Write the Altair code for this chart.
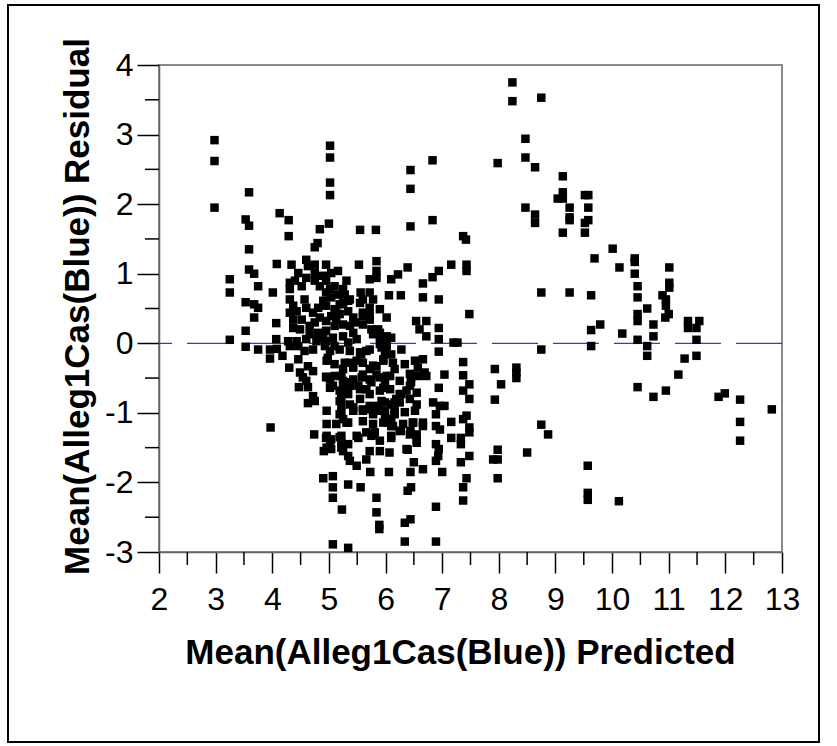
import altair as alt
import pandas as pd

# Predicted (x) and residual (y) values, grouped by region of the x axis
pred_a = [2.98, 2.98, 2.98, 3.25, 3.25, 3.25, 3.59, 3.53, 3.59, 3.59, 3.59, 3.68, 3.75,
          3.53, 3.68, 3.75, 3.68, 3.53, 3.53, 3.75, 3.96, 3.96, 4.08, 4.18,
          4.01, 4.07, 4.07, 3.97, 4.13, 4.29, 4.29, 4.08, 4.28, 4.43]
resid_a = [2.92, 2.62, 1.95, 0.92, 0.73, 0.05, 2.17, 1.78, 1.69, 1.35, 1.06, 1.0, 0.82,
           0.59, 0.56, 0.51, 0.37, 0.18, -0.05, -0.09, -0.09, -0.22, -0.08, -0.18,
           0.73, 0.29, 0.06, -1.21, 1.87, 1.77, 1.54, 1.14, 0.03, 0.03]

pred_b = [4.34, 4.46, 4.6, 4.63, 4.75, 4.75, 4.75, 4.8, 4.84, 5.0,
          4.31, 4.31, 4.4, 4.52, 4.6, 4.75, 4.84, 4.9, 4.95,
          4.31, 4.37, 4.31, 4.43, 4.57, 4.6, 4.72, 4.81, 4.9, 4.84, 4.95, 4.75, 4.66, 4.52,
          4.37, 4.37, 4.49, 4.66, 4.81, 4.95, 4.9, 4.6, 4.78, 4.95,
          4.31, 4.46, 4.57, 4.72, 4.98,
          4.3, 4.46, 4.49, 4.54, 4.63, 4.72, 4.6, 4.47, 4.63, 4.72, 4.63, 4.75, 4.95,
          4.74, 4.95, 4.91, 4.9, 4.95, 4.95, 4.95, 4.93,
          4.96, 4.96, 4.96, 4.96, 4.96, 4.96]
resid_b = [1.13, 1.01, 1.2, 1.11, 1.13, 1.01, 1.38, 1.44, 1.64, 1.72,
           0.87, 0.78, 0.9, 0.82, 0.94, 0.9, 0.82, 0.97, 0.9,
           0.63, 0.54, 0.44, 0.46, 0.63, 0.51, 0.44, 0.51, 0.61, 0.37, 0.32, 0.3, 0.25, 0.34,
           0.34, 0.22, 0.2, 0.13, 0.15, 0.18, 0.08, 0.06, 0.03, 0.03,
           -0.04, -0.04, -0.11, -0.09, -0.21,
           -0.35, -0.23, -0.42, -0.49, -0.33, -0.4, -0.54, -0.63, -0.63, -0.76, -0.86, -0.83, -0.48,
           -1.31, -1.36, -1.55, -1.94, 1.13, 0.73, 0.54, -0.04,
           -0.25, -0.49, -0.97, -1.16, -1.33, -1.5]

pred_c = [5.02, 5.02, 5.02, 5.02, 5.04, 5.16, 5.31, 5.02, 5.1, 5.25, 5.37, 5.25,
          5.04, 5.16, 5.28, 5.34, 5.19, 5.1, 5.04, 5.19, 5.34, 5.43, 5.1, 5.25, 5.37, 5.43,
          5.25, 5.07, 5.1, 5.34, 5.49, 5.13, 5.13, 5.46,
          5.02, 5.19, 5.37, 5.1, 5.28, 5.43, 5.1, 5.25, 5.43, 5.02, 5.19, 5.37, 5.19, 5.37,
          5.19, 5.43, 5.13, 5.31, 5.19, 5.49, 5.25,
          5.37, 5.49, 5.25, 5.22, 5.07, 5.02, 5.37, 5.25, 5.34, 5.22, 5.22, 5.22, 5.22,
          5.43, 5.25, 5.34, 5.22, 5.22, 5.22, 5.04, 5.04, 5.02,
          5.34, 5.37, 5.49, 5.34, 5.07, 5.07, 5.07, 5.34, 5.23, 5.07, 5.34, 5.52]
resid_c = [2.84, 2.67, 2.31, 2.13, 1.01, 1.04, 0.9, 0.78, 0.82, 0.78, 0.63, 0.58,
           0.66, 0.7, 0.7, 0.61, 0.56, 0.49, 0.39, 0.42, 0.46, 0.37, 0.25, 0.27, 0.25, 0.15,
           0.1, 0.08, -0.04, 0.01, 0.06, 0.44, 0.34, 0.3,
           -0.11, -0.09, -0.11, -0.3, -0.28, -0.35, -0.47, -0.54, -0.52, -0.64, -0.68, -0.61, -0.83, -0.88,
           -1.02, -0.97, -1.16, -1.14, -1.35, -1.33, -1.55,
           -0.28, -0.25, -0.37, -0.47, -0.61, -0.52, -0.56, -0.61, -0.73, -0.73, -0.8, -0.9, -1.0,
           -0.92, -1.09, -1.14, -1.33, -1.43, -1.5, -1.38, -1.52, -1.43,
           -1.62, -1.69, -1.76, -1.45, -1.91, -2.07, -2.22, -2.03, -2.39, -2.89, -2.94, -1.36]

pred_d = [5.55, 5.83, 5.53, 5.84, 5.84, 5.84, 5.72,
          5.56, 5.72, 5.55, 5.72, 5.6, 5.6, 5.72, 5.75, 5.87, 5.9, 6.02, 5.9, 6.02,
          5.6, 5.72, 5.78, 5.9, 5.96, 6.1, 5.6, 5.78, 5.9, 6.02,
          5.55, 5.72, 5.93, 5.6, 5.78, 5.96, 5.58, 5.75, 5.9, 5.55, 5.72, 5.9, 5.55, 5.72, 5.93,
          5.6, 5.78, 5.99, 5.6, 5.78, 5.96, 5.78, 5.9, 5.72, 5.9,
          5.57, 5.66, 5.99, 5.96, 5.84, 5.72, 5.6, 5.66, 5.52, 5.84, 5.72,
          5.87, 5.9, 5.99, 5.6, 5.72, 5.81, 5.75, 5.66, 6.07, 5.66,
          5.73, 5.84, 5.84, 5.89, 5.89, 5.56]
resid_d = [1.63, 1.63, 1.13, 1.18, 1.04, 0.94, 0.92,
           0.73, 0.73, 0.58, 0.51, 0.39, 0.27, 0.34, 0.2, 0.2, 0.1, 0.1, -0.01, -0.04,
           0.44, 0.39, 0.13, 0.15, 0.08, 0.08, 0.63, 0.63, 0.49, 0.37,
           -0.13, -0.09, -0.06, -0.28, -0.32, -0.25, -0.49, -0.56, -0.49, -0.66, -0.73, -0.68, -0.8, -0.9, -0.83,
           -0.97, -1.02, -0.97, -1.12, -1.16, -1.14, -1.31, -1.4, -1.55, -1.55,
           -0.16, -0.11, -0.13, -0.23, -0.33, -0.37, -0.45, -0.66, -0.61, -0.45, -0.52,
           -0.9, -0.97, -0.85, -0.95, -0.95, -1.28, -1.33, -1.28, -1.57, -1.67,
           -1.85, -2.22, -2.43, -2.61, -2.67, -2.07]

pred_e = [6.06, 6.27, 6.22, 6.1, 6.39, 6.44, 6.44, 6.44, 6.83, 6.83,
          6.66, 6.94, 6.66, 6.83, 6.94, 6.54, 6.72, 6.6, 6.72, 6.94, 6.94, 6.94,
          6.1, 6.28, 6.13, 6.34, 6.52, 6.08, 6.25, 6.43, 6.08, 6.25, 6.43, 6.55, 6.1, 6.25, 6.43, 6.55,
          6.16, 6.34, 6.52, 6.13, 6.31, 6.49, 6.1, 6.25, 6.43, 6.55, 6.37,
          6.57, 6.66, 6.16, 6.02, 5.99, 5.96, 6.45, 6.45, 6.57, 6.72, 6.69,
          6.16, 6.19, 6.28, 6.37, 6.16, 6.16, 6.1, 6.1, 5.99, 6.04,
          6.48, 6.66, 6.66, 6.27, 6.44, 6.55, 6.1,
          6.55, 6.39, 6.5, 6.44, 6.45, 6.39, 6.44, 6.34, 6.34, 6.06, 6.66,
          6.84, 6.96, 7.04, 6.89, 6.89, 6.96, 6.89, 6.94, 6.93, 6.89, 7.0, 6.89, 6.89, 6.94, 7.04]
resid_e = [0.69, 0.69, 0.99, 0.92, 1.09, 1.68, 2.22, 2.49, 2.63, 1.77,
           0.66, 0.63, 0.86, 0.95, 1.04, 0.32, 0.32, 0.2, 0.1, 0.22, 0.06, -0.12,
           -0.16, -0.09, -0.28, -0.3, -0.25, -0.47, -0.54, -0.44, -0.66, -0.73, -0.61, -0.71, -0.88, -0.85, -0.8, -0.88,
           -1.02, -0.99, -0.97, -1.19, -1.16, -1.14, -1.33, -1.26, -1.31, -1.38, -1.52,
           -0.35, -0.23, -0.37, -0.47, -0.56, -0.64, -0.56, -0.49, -0.47, -0.47, -0.42,
           -0.85, -0.8, -0.73, -0.68, -0.9, -1.0, -1.09, -1.19, -1.04, -1.14,
           -1.14, -1.14, -1.19, -1.26, -1.26, -1.31, -1.36,
           -1.43, -1.53, -1.71, -1.85, -2.07, -2.12, -2.53, -2.58, -2.85, -1.85, -1.81,
           -0.85, -0.9, -0.9, -1.02, -1.19, -1.24, -1.45, -1.52, -1.62, -1.69, -1.85, -2.35, -2.85, -0.64, -0.45]

pred_f = [7.16, 7.43, 7.43, 7.37, 7.42, 7.48, 7.2, 7.27,
          7.37, 7.37, 7.48, 7.37, 7.48, 7.43, 7.37, 7.16, 7.48, 7.48, 7.16, 7.33, 7.33, 7.48, 7.33,
          7.43, 7.37, 7.37, 7.93, 7.93, 7.98, 7.9, 7.98, 7.98, 7.98]
resid_f = [1.13, 1.13, 1.04, 1.54, 1.49, 0.42, 0.01, 0.01,
           -0.27, -0.46, -0.59, -0.68, -0.8, -1.04, -1.09, -1.13, -1.21, -1.28, -1.36, -1.36, -1.45, -1.62, -1.71,
           -1.94, -2.07, -2.26, -0.37, -0.81, -1.53, -1.67, -1.67, -1.94, 2.59]

pred_g = [8.24, 8.24, 8.47, 8.47, 8.47, 8.75, 8.64, 8.64, 8.64, 8.75, 8.75,
          8.31, 8.31, 8.31, 8.04, 8.5, 8.75, 8.87,
          9.13, 9.13, 9.04, 9.13, 9.52, 9.58, 9.25, 9.25, 9.25, 9.58, 9.52, 9.58, 9.13, 9.52,
          9.25, 9.63, 9.69, 9.79, 9.63, 9.63, 9.57, 9.57, 9.57]
resid_g = [3.75, 3.48, 2.94, 2.67, 1.95, 3.53, 2.53, 1.85, 1.73, 0.73, -0.09,
           -0.35, -0.42, -0.5, -0.59, -1.57, -1.17, -1.31,
           2.4, 2.17, 2.08, 2.08, 2.13, 2.13, 1.95, 1.81, 1.77, 1.95, 1.73, 1.77, 1.59, 1.59,
           0.73, 0.69, 1.22, 0.27, 0.19, -0.04, -1.76, -2.15, -2.25]

pred_h = [10.01, 10.4, 10.4, 10.13, 10.4, 11.01, 11.01, 11.01, 10.45, 10.45, 10.89, 10.95,
          10.95, 11.0, 10.94, 10.62, 10.45, 10.45, 10.73, 11.34, 11.34, 11.54, 11.49,
          10.18, 10.45, 10.73, 11.49, 10.62, 10.62, 11.28, 11.49, 11.17, 10.45, 10.73, 10.95,
          11.88, 11.99, 12.26, 12.82, 12.26, 12.26, 10.12]
resid_h = [1.36, 1.22, 1.17, 1.09, 1.0, 1.09, 0.87, 0.8, 0.82, 0.66, 0.69, 0.63,
           0.54, 0.42, 0.37, 0.5, 0.42, 0.32, 0.27, 0.32, 0.22, 0.32, 0.22,
           0.14, 0.05, 0.1, 0.05, -0.04, -0.18, -0.22, -0.18, -0.45, -0.63, -0.77, -0.68,
           -0.77, -0.72, -0.81, -0.95, -1.13, -1.4, -2.27]

# Tick positions
x_major = [2, 3, 4, 5, 6, 7, 8, 9, 10, 11, 12, 13]
x_minor = [2.5, 3.5, 4.5, 5.5, 6.5, 7.5, 8.5, 9.5, 10.5, 11.5, 12.5]
y_major = [-3, -2, -1, 0, 1, 2, 3, 4]
y_minor = [-2.5, -1.5, -0.5, 0.5, 1.5, 2.5, 3.5]
zero_ref = [0]

preds = pred_a + pred_b + pred_c + pred_d + pred_e + pred_f + pred_g + pred_h
resids = resid_a + resid_b + resid_c + resid_d + resid_e + resid_f + resid_g + resid_h
df = pd.DataFrame({"pred": preds, "resid": resids})

FONT = "Liberation Sans"
xscale = alt.Scale(domain=[2, 13], nice=False, zero=False)
yscale = alt.Scale(domain=[-3, 4], nice=False, zero=False)

x_axis = alt.Axis(
    orient="bottom", values=x_major, tickSize=21, tickColor="black", tickWidth=1.5,
    domainColor="#666666", domainWidth=1.5, grid=False,
    labelExpr="'' + datum.value",
    labelFont=FONT, labelFontSize=32, labelColor="black", labelPadding=11,
    labelBaseline="top", labelFlush=False, labelOverlap=False,
    title="Mean(Alleg1Cas(Blue)) Predicted", titleFont=FONT, titleFontSize=35,
    titleFontWeight="bold", titleColor="black", titleX=301, titleY=111,
    titleBaseline="alphabetic", titleAlign="center",
)
y_axis = alt.Axis(
    orient="left", values=y_major, tickSize=22, tickColor="black", tickWidth=1.5,
    domainColor="#666666", domainWidth=1.5, grid=False,
    labelExpr="'' + datum.value",
    labelFont=FONT, labelFontSize=32, labelColor="black", labelPadding=4,
    labelFlush=False, labelOverlap=False,
    title="Mean(Alleg1Cas(Blue)) Residual", titleFont=FONT, titleFontSize=35,
    titleFontWeight="bold", titleColor="black", titleX=-71, titleY=241,
    titleAngle=270, titleBaseline="alphabetic", titleAlign="center",
)

points = alt.Chart(df).mark_square(size=72, color="black", opacity=1).encode(
    x=alt.X("pred:Q", scale=xscale, axis=x_axis),
    y=alt.Y("resid:Q", scale=yscale, axis=y_axis),
)

# Half-unit minor ticks, placed through the same scales
x_minor_ticks = alt.Chart(pd.DataFrame({"pred": x_minor})).mark_rule(
    color="black", strokeWidth=1.5
).encode(x=alt.X("pred:Q", scale=xscale), y=alt.value(487), y2=alt.value(500))

y_minor_ticks = alt.Chart(pd.DataFrame({"resid": y_minor})).mark_rule(
    color="black", strokeWidth=1.5
).encode(y=alt.Y("resid:Q", scale=yscale), x=alt.value(0), x2=alt.value(-14))

zero_line = alt.Chart(pd.DataFrame({"resid": zero_ref})).mark_rule(
    color="#3333ff", strokeWidth=1.3, strokeDash=[46, 15]
).encode(y=alt.Y("resid:Q", scale=yscale))

frame = alt.Chart(pd.DataFrame({"a": [0]})).mark_rect(
    filled=False, stroke="black", strokeWidth=2
).encode(
    x=alt.value(-151), x2=alt.value(660), y=alt.value(-60), y2=alt.value(677)
)

chart = alt.layer(zero_line, points, x_minor_ticks, y_minor_ticks, frame).properties(
    width=623, height=487,
    autosize=alt.AutoSizeParams(type="none"),
    padding={"left": 159, "top": 65, "right": 55, "bottom": 194},
    background="white",
).configure_view(stroke="#666666", strokeWidth=1.5)

chart.save("out.html", embed_options={"renderer": "svg", "actions": False})
